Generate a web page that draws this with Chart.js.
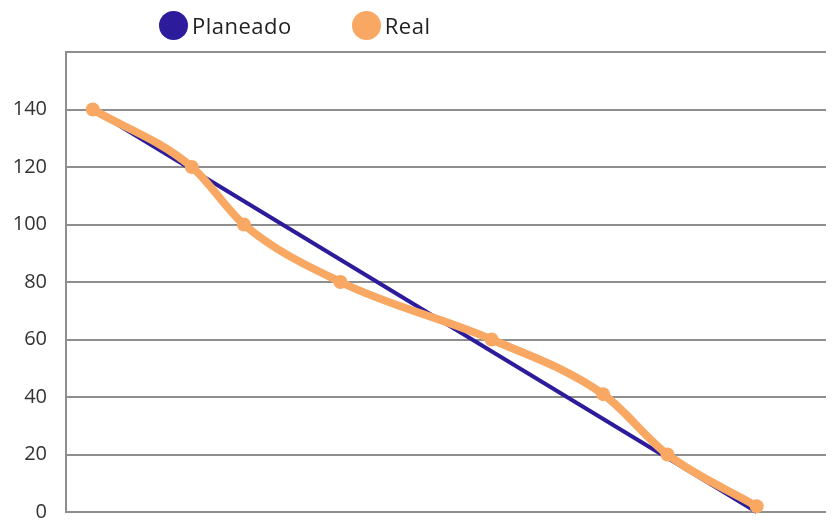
<!DOCTYPE html>
<html>
<head>
<meta charset="utf-8">
<script src="https://cdn.jsdelivr.net/npm/chart.js@4/dist/chart.umd.min.js"></script>
<style>
  html, body { margin: 0; padding: 0; background: #fff; overflow: hidden; }
  #wrap { position: relative; width: 833px; height: 522px; }
  #legend { position: absolute; left: 159px; top: 10px; display: flex; align-items: center;
            font-family: "Open Sans", sans-serif; font-size: 22px; letter-spacing: 0.5px; color: #222; }
  #legend .item { display: flex; align-items: center; margin-right: 60px; }
  #legend .dot { width: 29px; height: 29px; border-radius: 50%; margin-right: 4px; }
</style>
</head>
<body>
<div id="wrap">
  <canvas id="c" width="833" height="522"></canvas>
  <div id="legend"></div>
</div>
<script>
// Burndown: planned vs. actual remaining work
const seriesNames = ['Planeado', 'Real'];
const plannedDays = [0, 26.8];
const plannedValues = [140, 0];
const realDays = [0, 4, 6.1, 10, 16.1, 20.6, 23.2, 26.8];
const realValues = [140, 120, 100, 80, 60, 41, 20, 2];
const yTickLabels = ['0', '20', '40', '60', '80', '100', '120', '140'];

const BLUE = '#2c1c9c';
const ORANGE = '#f8a862';
const GRID = '#8e8e8e';

const toPoints = (xs, ys) => xs.map((x, i) => ({ x, y: ys[i] }));

// Legend rendered as HTML from the chart's datasets
const htmlLegend = {
  id: 'htmlLegend',
  afterUpdate(chart) {
    const box = document.getElementById('legend');
    box.innerHTML = '';
    chart.data.datasets.forEach(ds => {
      const item = document.createElement('div');
      item.className = 'item';
      const dot = document.createElement('span');
      dot.className = 'dot';
      dot.style.background = ds.borderColor;
      const txt = document.createElement('span');
      txt.textContent = ds.label;
      item.appendChild(dot);
      item.appendChild(txt);
      box.appendChild(item);
    });
  }
};

new Chart(document.getElementById('c'), {
  type: 'line',
  data: {
    datasets: [
      {
        label: seriesNames[0],
        data: toPoints(plannedDays, plannedValues),
        borderColor: BLUE,
        backgroundColor: BLUE,
        borderWidth: 4,
        pointRadius: 0,
        tension: 0,
        order: 1
      },
      {
        label: seriesNames[1],
        data: toPoints(realDays, realValues),
        borderColor: ORANGE,
        backgroundColor: ORANGE,
        borderWidth: 8,
        pointRadius: 7,
        pointBorderWidth: 0,
        pointBackgroundColor: ORANGE,
        cubicInterpolationMode: 'monotone',
        order: 0
      }
    ]
  },
  options: {
    responsive: false,
    animation: false,
    clip: false,
    layout: { padding: { top: 52, bottom: 10, left: 0, right: 0 } },
    plugins: {
      legend: { display: false },
      tooltip: { enabled: false }
    },
    scales: {
      x: {
        type: 'linear',
        display: false,
        min: -1.08,
        max: 29.6
      },
      y: {
        min: 0,
        max: 160,
        afterFit(scale) {
          scale.width = 66;
          scale.paddingTop = 0;
          scale.paddingBottom = 0;
        },
        border: { display: true, color: GRID, width: 2 },
        grid: { color: GRID, lineWidth: 2, drawTicks: false },
        ticks: {
          stepSize: 20,
          padding: 19,
          color: '#333',
          font: { family: '"Open Sans", sans-serif', size: 20 },
          callback: (v, i) => yTickLabels[i] ?? ''
        }
      }
    }
  },
  plugins: [htmlLegend]
});
</script>
</body>
</html>
